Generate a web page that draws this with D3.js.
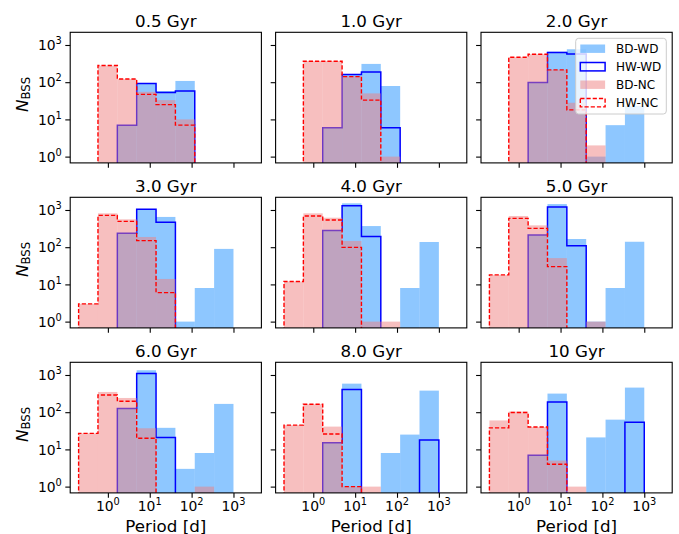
<!DOCTYPE html>
<html><head><meta charset="utf-8">
<script src="https://cdn.jsdelivr.net/npm/d3@7"></script>
<style>body{margin:0;background:#fff} svg{display:block;font-family:"DejaVu Sans",sans-serif}</style>
</head><body>
<svg id="c" width="679" height="534"></svg>
<script>
// ---- data ----
const binEdges = [0.2, 0.58, 1.682, 4.877, 14.142, 41.01, 118.92, 344.84, 1000];
const panelTitles = ["0.5 Gyr", "1.0 Gyr", "2.0 Gyr", "3.0 Gyr", "4.0 Gyr", "5.0 Gyr", "6.0 Gyr", "8.0 Gyr", "10 Gyr"];
const xTickValues = [1, 10, 100, 1000];
const xTickExps = ["0", "1", "2", "3"];
const yTickValues = [1, 10, 100, 1000];
const yTickExps = ["0", "1", "2", "3"];
const seriesNames = ["BD-WD", "HW-WD", "BD-NC", "HW-NC"];

const bdWD = [
  [0, 0, 7, 93, 58, 108, 0, 0],
  [0, 0, 6, 160, 310, 79, 0, 0],
  [0, 0, 98, 660, 767, 1, 7, 23],
  [0, 0, 236, 1040, 650, 1, 8, 90],
  [0, 0, 285, 1510, 370, 0, 8, 138],
  [0, 0, 213, 1440, 166, 1, 8, 140],
  [0, 0, 125, 1340, 38, 3, 8, 167],
  [0, 0, 15, 585, 0, 8, 25, 380],
  [0, 0, 7, 316, 0, 21, 63, 458]
];
const hwWD = [
  [0, 0, 7, 92, 53, 58, 0, 0],
  [0, 0, 6, 160, 189, 6, 0, 0],
  [0, 0, 98, 630, 573, 0, 0, 0],
  [0, 0, 236, 1040, 465, 0, 0, 0],
  [0, 0, 280, 1300, 195, 0, 0, 0],
  [0, 0, 213, 1200, 110, 0, 0, 0],
  [0, 0, 125, 1090, 21, 0, 0, 0],
  [0, 0, 15, 405, 0, 0, 0, 18],
  [0, 0, 7, 189, 0, 0, 0, 54]
];
const bdNC = [
  [0, 279, 122, 55, 33, 10, 0, 0],
  [0, 370, 370, 143, 50, 1, 0, 0],
  [0, 468, 565, 214, 28, 2, 0, 0],
  [3, 812, 560, 188, 14, 0, 0, 0],
  [12, 812, 620, 147, 1, 1, 0, 0],
  [18, 690, 386, 51, 0, 1, 0, 0],
  [27, 350, 241, 37, 0, 0, 1, 0],
  [45, 164, 41, 1, 1, 0, 0, 0],
  [60, 104, 40, 5, 1, 0, 0, 0]
];
const hwNC = [
  [0, 280, 122, 47, 25, 7, 0, 0],
  [0, 365, 365, 141, 33, 0, 0, 0],
  [0, 468, 565, 214, 18, 0, 0, 0],
  [3, 718, 495, 150, 6, 0, 0, 0],
  [12, 690, 540, 99, 0, 0, 0, 0],
  [18, 596, 321, 30, 0, 0, 0, 0],
  [27, 291, 196, 20, 0, 0, 0, 0],
  [45, 164, 26, 1, 0, 0, 0, 0],
  [38, 98, 40, 4, 0, 0, 0, 0]
];

// ---- layout & style ----
const colLeft = [70.2, 275.6, 481.0], rowTop = [32.3, 197.3, 362.3];
const pw = 191.2, ph = 130.6;
const xDom = [Math.pow(10, -0.9), Math.pow(10, 3.667)];
const yDom = [Math.pow(10, -0.169), Math.pow(10, 3.341)];
const cBlueFill = "#1E90FF", cPinkFill = "#F08080";
const tickFont = 13.9, supFont = 9.8, titleFont = 16.7;

const svg = d3.select("#c");
const defs = svg.append("defs");

function stepPath(vals, x, y, yb) {
  let p = "M" + x(binEdges[0]) + "," + yb;
  vals.forEach((v, k) => {
    const yy = v > 0 ? y(v) : yb;
    p += "L" + x(binEdges[k]) + "," + yy + "L" + x(binEdges[k + 1]) + "," + yy;
  });
  p += "L" + x(binEdges[binEdges.length - 1]) + "," + yb;
  return p;
}

panelTitles.forEach((title, i) => {
  const r = Math.floor(i / 3), c = i % 3;
  const L = colLeft[c], T = rowTop[r], B = T + ph;
  const x = d3.scaleLog().domain(xDom).range([L, L + pw]);
  const y = d3.scaleLog().domain(yDom).range([B, T]);
  defs.append("clipPath").attr("id", "clip" + i)
    .append("rect").attr("x", L).attr("y", T).attr("width", pw).attr("height", ph);
  const g = svg.append("g");
  const pg = g.append("g").attr("clip-path", "url(#clip" + i + ")");

  function bars(vals, color) {
    pg.append("g").selectAll("rect")
      .data(vals.map((v, k) => ({v, k})).filter(d => d.v > 0))
      .join("rect")
      .attr("x", d => x(binEdges[d.k]))
      .attr("width", d => x(binEdges[d.k + 1]) - x(binEdges[d.k]))
      .attr("y", d => y(d.v))
      .attr("height", d => B + 3 - y(d.v))
      .attr("fill", color).attr("fill-opacity", 0.5);
  }
  bars(bdWD[i], cBlueFill);
  pg.append("path").attr("d", stepPath(hwWD[i], x, y, B + 10))
    .attr("fill", "none").attr("stroke", "#0000FF").attr("stroke-width", 1.5)
    .attr("stroke-linejoin", "miter");
  bars(bdNC[i], cPinkFill);
  pg.append("path").attr("d", stepPath(hwNC[i], x, y, B + 10))
    .attr("fill", "none").attr("stroke", "#FF0000").attr("stroke-width", 1.4)
    .attr("stroke-dasharray", "4.2,2");

  // ticks
  const xa = d3.axisBottom(x).tickValues(xTickValues).tickSize(4.9).tickFormat("");
  const xg = g.append("g").attr("transform", `translate(0,${B})`).call(xa);
  xg.select(".domain").remove();
  xg.selectAll(".tick line").attr("stroke", "#000").attr("stroke-width", 1.1);
  const ya = d3.axisLeft(y).tickValues(yTickValues).tickSize(4.9).tickFormat("");
  const yg = g.append("g").attr("transform", `translate(${L},0)`).call(ya);
  yg.select(".domain").remove();
  yg.selectAll(".tick line").attr("stroke", "#000").attr("stroke-width", 1.1);

  // spines
  g.append("rect").attr("x", L).attr("y", T).attr("width", pw).attr("height", ph)
    .attr("fill", "none").attr("stroke", "#000").attr("stroke-width", 1.1);

  // title
  g.append("text").attr("x", L + pw / 2).attr("y", T - 5.6)
    .attr("text-anchor", "middle").attr("font-size", titleFont).text(title);

  // y tick labels (first column)
  if (c === 0) {
    yTickValues.forEach((v, k) => {
      const t = g.append("text").attr("x", L - 8.4).attr("y", y(v) + 5.3)
        .attr("text-anchor", "end").attr("font-size", tickFont);
      t.append("tspan").text("10");
      t.append("tspan").attr("font-size", supFont).attr("dy", -6).text(yTickExps[k]);
    });
    const lab = g.append("text")
      .attr("transform", `translate(27.5,${T + ph / 2 - 3.2}) rotate(-90)`)
      .attr("text-anchor", "middle").attr("font-size", titleFont);
    lab.append("tspan").attr("font-style", "italic").text("N");
    lab.append("tspan").attr("font-size", 11.7).attr("dy", 2).text("BSS");
  }
  // x tick labels (last row)
  if (r === 2) {
    xTickValues.forEach((v, k) => {
      const t = g.append("text").attr("x", x(v)).attr("y", B + 18.2)
        .attr("text-anchor", "middle").attr("font-size", tickFont);
      t.append("tspan").text("10");
      t.append("tspan").attr("font-size", supFont).attr("dy", -6).text(xTickExps[k]);
    });
    g.append("text").attr("x", L + pw / 2).attr("y", 531.5)
      .attr("text-anchor", "middle").attr("font-size", titleFont).text("Period [d]");
  }

  // legend in the 2.0 Gyr panel
  if (i === 2) {
    const lx = 575.7, ly = 38.3, lw = 90.6, lh = 75.7;
    const lg = g.append("g");
    lg.append("rect").attr("x", lx).attr("y", ly).attr("width", lw).attr("height", lh)
      .attr("rx", 3).attr("fill", "#fff").attr("fill-opacity", 0.8)
      .attr("stroke", "#cccccc").attr("stroke-width", 1);
    const rowsY = [48.7, 66.7, 84.7, 102.7];
    seriesNames.forEach((name, k) => {
      const cy = rowsY[k];
      const h = lg.append("rect").attr("x", 580.3).attr("y", cy - 4.2)
        .attr("width", 24.8).attr("height", 8.4);
      if (k === 0) h.attr("fill", cBlueFill).attr("fill-opacity", 0.5);
      if (k === 1) h.attr("fill", "none").attr("stroke", "#0000FF").attr("stroke-width", 1.5);
      if (k === 2) h.attr("fill", cPinkFill).attr("fill-opacity", 0.5);
      if (k === 3) h.attr("fill", "none").attr("stroke", "#FF0000").attr("stroke-width", 1.4)
        .attr("stroke-dasharray", "4.2,2");
      lg.append("text").attr("x", 616).attr("y", cy + 4.3)
        .attr("font-size", 12).text(name);
    });
  }
});
</script>
</body></html>
